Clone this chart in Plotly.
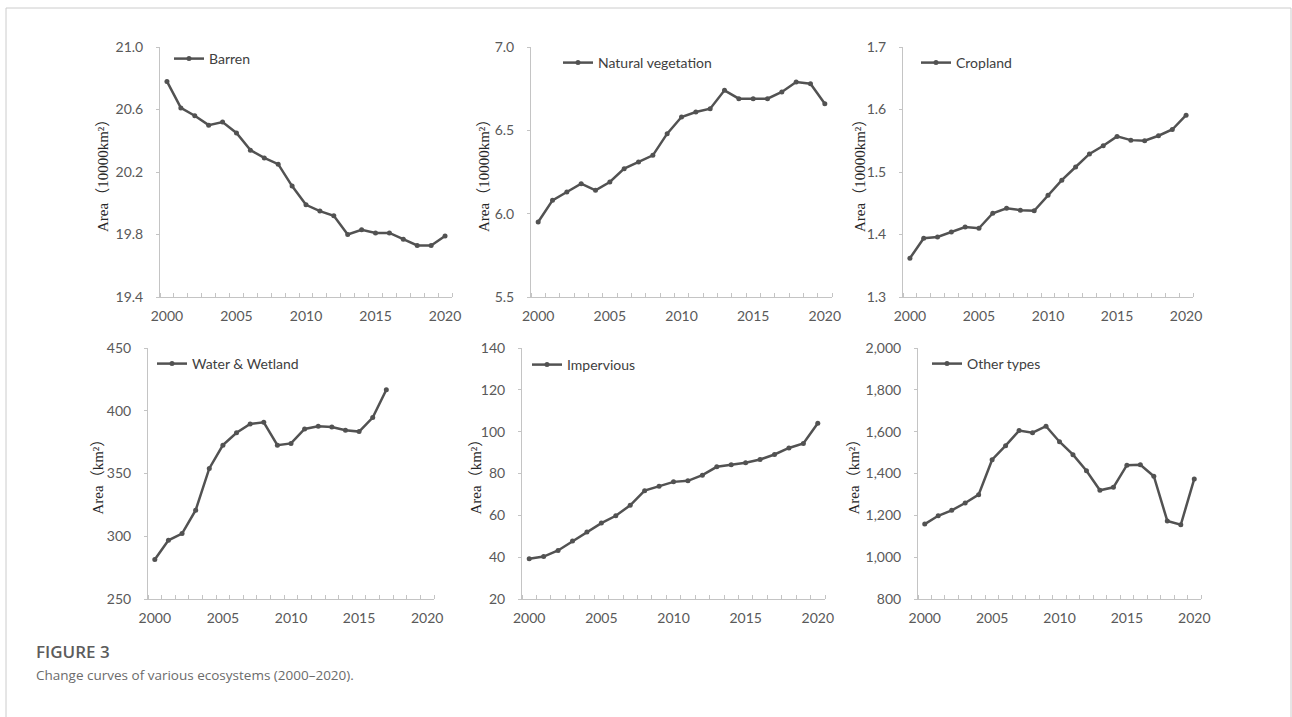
import plotly.graph_objects as go

W, H = 1292, 717

# ---- data -------------------------------------------------------------
years = list(range(2000, 2021))
years_water = list(range(2000, 2018))

barren = [20.78, 20.61, 20.56, 20.50, 20.52, 20.45, 20.34, 20.29, 20.25, 20.11,
          19.99, 19.95, 19.92, 19.80, 19.83, 19.81, 19.81, 19.77, 19.73, 19.73, 19.79]
natural_vegetation = [5.95, 6.08, 6.13, 6.18, 6.14, 6.19, 6.27, 6.31, 6.35, 6.48,
                      6.58, 6.61, 6.63, 6.74, 6.69, 6.69, 6.69, 6.73, 6.79, 6.78, 6.66]
cropland = [1.362, 1.394, 1.396, 1.404, 1.412, 1.410, 1.434, 1.442, 1.439, 1.438,
            1.463, 1.487, 1.508, 1.529, 1.542, 1.557, 1.551, 1.550, 1.558, 1.568, 1.591]
water_wetland = [281.5, 296.8, 302.1, 320.8, 354.0, 372.6, 382.5, 389.5, 390.8, 372.6,
                 374.0, 385.5, 387.6, 387.1, 384.5, 383.4, 394.6, 416.7]
impervious = [39.2, 40.3, 43.2, 47.7, 52.0, 56.3, 59.8, 64.8, 71.8, 73.9,
              76.0, 76.5, 79.2, 83.2, 84.2, 85.1, 86.7, 89.1, 92.2, 94.4, 104.0]
other_types = [1158, 1198, 1224, 1259, 1299, 1466, 1533, 1605, 1595, 1626,
               1552, 1490, 1413, 1320, 1334, 1440, 1442, 1387, 1173, 1155, 1374]

year_ticks = [2000, 2005, 2010, 2015, 2020]

# ---- panel layout (pixel boxes: left, right, top, bottom) --------------
panels = [
    dict(name="Barren", x=years, y=barren, box=(160, 452, 47, 297),
         yrange=(19.4, 21.0), dtick=0.4, fmt=".1f",
         ytitle="Area（10000km²）", title_x=103, legend_at=(174, 59)),
    dict(name="Natural vegetation", x=years, y=natural_vegetation, box=(531, 832, 47, 297),
         yrange=(5.5, 7.0), dtick=0.5, fmt=".1f",
         ytitle="Area（10000km²）", title_x=484, legend_at=(563, 63)),
    dict(name="Cropland", x=years, y=cropland, box=(903, 1193, 47, 297),
         yrange=(1.3, 1.7), dtick=0.1, fmt=".1f",
         ytitle="Area（10000km²）", title_x=860, legend_at=(921, 63)),
    dict(name="Water & Wetland", x=years_water, y=water_wetland, box=(148, 434, 348, 599),
         yrange=(250, 450), dtick=50, fmt="d",
         ytitle="Area（km²）", title_x=97, legend_at=(157, 364)),
    dict(name="Impervious", x=years, y=impervious, box=(522, 825, 348, 599),
         yrange=(20, 140), dtick=20, fmt="d",
         ytitle="Area（km²）", title_x=475, legend_at=(532, 365)),
    dict(name="Other types", x=years, y=other_types, box=(918, 1201, 348, 599),
         yrange=(800, 2000), dtick=200, fmt=",d",
         ytitle="Area（km²）", title_x=853, legend_at=(932, 364)),
]

LINE_COLOR = "#525252"
AXIS_COLOR = "#c4c4c4"
TICK_FONT = dict(family="Lato, 'Open Sans', sans-serif", size=14, color="#595959")
LEGEND_FONT = dict(family="Lato, 'Open Sans', sans-serif", size=14, color="#404040")
TITLE_FONT = dict(family="'Liberation Serif', 'Noto Sans CJK SC', serif", size=15, color="#262626")

fig = go.Figure()
layout = dict(
    width=W, height=H,
    margin=dict(l=0, r=0, t=0, b=0, autoexpand=False),
    paper_bgcolor="white", plot_bgcolor="white",
    showlegend=True,
    annotations=[], shapes=[],
)


def px_x(v):
    return v / W


def px_y(v):
    return 1 - v / H


for i, p in enumerate(panels, start=1):
    suffix = "" if i == 1 else str(i)
    leg = "legend" if i == 1 else f"legend{i}"
    fig.add_trace(go.Scatter(
        x=p["x"], y=p["y"], name=p["name"], mode="lines+markers",
        line=dict(color=LINE_COLOR, width=2.5),
        marker=dict(color=LINE_COLOR, size=5),
        xaxis=f"x{suffix}", yaxis=f"y{suffix}",
        legend=leg, hoverinfo="skip",
    ))
    l, r, t, b = p["box"]
    layout[f"xaxis{suffix}"] = dict(
        domain=[px_x(l), px_x(r)], anchor=f"y{suffix}",
        range=[1999.5, 2020.5],
        tickmode="array", tickvals=year_ticks, ticks="",
        ticklabelstandoff=6,
        showline=True, linecolor=AXIS_COLOR, linewidth=1,
        showgrid=False, zeroline=False,
        tickfont=TICK_FONT,
        minor=dict(tick0=1999.5, dtick=1, ticks="inside", ticklen=4,
                   tickcolor=AXIS_COLOR, tickwidth=1, showgrid=False),
    )
    layout[f"yaxis{suffix}"] = dict(
        domain=[px_y(b), px_y(t)], anchor=f"x{suffix}",
        range=list(p["yrange"]), dtick=p["dtick"], tick0=p["yrange"][0],
        tickformat=p["fmt"],
        ticks="outside", ticklen=3, tickcolor=AXIS_COLOR,
        ticklabelstandoff=10,
        showline=True, linecolor=AXIS_COLOR, linewidth=1,
        showgrid=False, zeroline=False,
        tickfont=TICK_FONT,
    )
    lx, ly = p["legend_at"]
    layout[leg] = dict(
        x=px_x(lx - 5), y=px_y(ly), xanchor="left", yanchor="middle",
        bgcolor="rgba(0,0,0,0)", borderwidth=0, font=LEGEND_FONT,
        itemclick=False, itemdoubleclick=False,
    )
    layout["annotations"].append(dict(
        text=p["ytitle"], textangle=-90,
        x=px_x(p["title_x"]), y=px_y((t + b) / 2),
        xref="paper", yref="paper", xanchor="center", yanchor="middle",
        showarrow=False, font=TITLE_FONT,
    ))

# figure caption
layout["annotations"].append(dict(
    text="FIGURE 3", x=px_x(34), y=px_y(651), xref="paper", yref="paper",
    xanchor="left", yanchor="middle", showarrow=False,
    font=dict(family="'Open Sans', sans-serif", size=17, color="#5c5c5c", weight=600),
))
layout["annotations"].append(dict(
    text="Change curves of various ecosystems (2000–2020).",
    x=px_x(34), y=px_y(675), xref="paper", yref="paper",
    xanchor="left", yanchor="middle", showarrow=False,
    font=dict(family="'Open Sans', sans-serif", size=13.5, color="#6b6b6b"),
))

# light frame around the figure (left, top, right edges)
layout["shapes"].append(dict(
    type="path", xref="paper", yref="paper",
    path=f"M {px_x(6)},{px_y(717)} L {px_x(6)},{px_y(8)} L {px_x(1291)},{px_y(8)} L {px_x(1291)},{px_y(717)}",
    line=dict(color="#cccccc", width=1),
))

fig.update_layout(**layout)
fig.write_html("out.html")
